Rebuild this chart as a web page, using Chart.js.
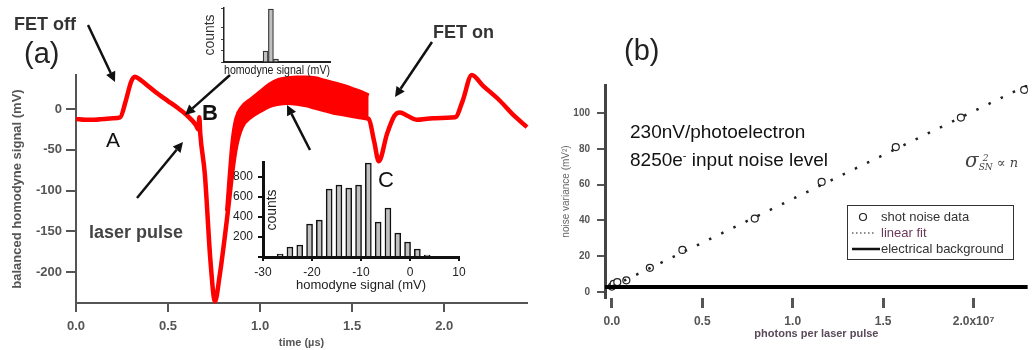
<!DOCTYPE html>
<html>
<head>
<meta charset="utf-8">
<script src="https://cdn.jsdelivr.net/npm/chart.js@4.4.1/dist/chart.umd.min.js"></script>
<style>
body{margin:0;background:#fff;}
#wrap{position:relative;width:1033px;height:350px;overflow:hidden;font-family:"Liberation Sans",Arial,sans-serif;}
canvas{position:absolute;}
.t{position:absolute;white-space:nowrap;color:#222;}
</style>
</head>
<body>
<div id="wrap">
  <canvas id="graficoA" width="560" height="350" style="left:0;top:0"></canvas>
  <canvas id="graficoB" width="473" height="350" style="left:560px;top:0"></canvas>
  <canvas id="histTopo" width="160" height="80" style="left:190px;top:0"></canvas>
  <canvas id="histBaixo" width="250" height="145" style="left:225px;top:150px"></canvas>

  <div class="t" style="left:14px;top:15px;font:bold 18px/18px 'Liberation Sans',Arial;color:#333">FET off</div>
  <div class="t" style="left:24px;top:38px;font:29px/30px 'Liberation Sans',Arial">(a)</div>
  <div class="t" style="left:433px;top:23px;font:bold 18px/18px 'Liberation Sans',Arial;color:#333">FET on</div>
  <div class="t" style="left:106px;top:129px;font:21px/22px 'Liberation Sans',Arial;color:#111">A</div>
  <div class="t" style="left:202px;top:102px;font:bold 22px/22px 'Liberation Sans',Arial;color:#111">B</div>
  <div class="t" style="left:378px;top:169px;font:22px/22px 'Liberation Sans',Arial;color:#111">C</div>
  <div class="t" style="left:89px;top:223px;font:bold 18px/18px 'Liberation Sans',Arial;color:#444">laser pulse</div>

  <div class="t" style="left:624px;top:35px;font:29px/30px 'Liberation Sans',Arial">(b)</div>
  <div class="t" style="left:630px;top:122px;font:19px/20px 'Liberation Sans',Arial;color:#111">230nV/photoelectron</div>
  <div class="t" style="left:630px;top:145px;font:19px/20px 'Liberation Sans',Arial;color:#111">8250e<sup style="font-size:11px">-</sup> input noise level</div>
  <div class="t" style="left:965px;top:148px;color:#444">
    <span style="font:italic 20px 'DejaVu Serif',serif">σ</span><span style="display:inline-block;vertical-align:middle;font:italic 9px/9px 'DejaVu Serif',serif;text-align:center"><span>2</span><br><span>SN</span></span><span style="font:italic 13px 'DejaVu Serif',serif"> ∝ n</span>
  </div>
</div>

<script>
// (a) traço do sinal homodino
let tempoUs = [0, 0.05, 0.10, 0.15, 0.20, 0.24, 0.27, 0.30, 0.32, 0.35, 0.40, 0.45, 0.50, 0.55, 0.60, 0.65, 0.665, 0.67, 0.675, 0.70, 0.73, 0.755, 0.78,
  0.82, 0.85, 0.87, 0.90, 0.95, 1.00, 1.05, 1.10, 1.15, 1.20, 1.25, 1.30, 1.35, 1.40, 1.45, 1.50, 1.55, 1.59,
  1.62, 1.645, 1.69, 1.73, 1.76, 1.80, 1.85, 1.94, 2.06, 2.10, 2.15, 2.21, 2.30, 2.38, 2.45];
let sinalMv = [-12, -13, -13, -12, -11, -10, 10, 34, 40, 36, 27, 18, 10, 2, -7, -19, -25, -10, -30, -80, -185, -236, -205,
  -135, -75, -45, -22, -9, -2, 4, 7, 8, 7, 5, 2, -1, -4, -6, -8, -10, -12,
  -40, -64, -30, -8, -4, -8, -13, -11, -10, 10, 42, 29, 11, -8, -22];
// faixa larga (muitos disparos sobrepostos)
let faixaT = [0.82, 0.85, 0.87, 0.90, 0.95, 1.00, 1.05, 1.10, 1.15, 1.20, 1.25, 1.30, 1.35, 1.40, 1.45, 1.50, 1.55, 1.59];
let faixaMax = [-125, -40, -12, 2, 12, 21, 30, 36, 38, 39, 39, 38, 35, 32, 29, 25, 21, 17];
let faixaMin = [-135, -75, -45, -22, -9, -2, 4, 7, 8, 7, 5, 2, -1, -4, -6, -8, -10, -12];

// histogramas
let histBins = [-26.5, -24.5, -22.5, -20.5, -18.5, -16.5, -14.5, -12.5, -10.5, -8.5, -6.5, -4.5, -2.5, -0.5, 1.5, 3.5];
let histContagens = [30, 100, 120, 330, 370, 680, 720, 690, 720, 940, 350, 490, 240, 150, 80, 20];
let topoBins = [-14.3, -12.3, -10.4];
let topoContagens = [190, 920, 50];

// (b) variância do ruído
let fotons = [0.0, 0.01, 0.03, 0.08, 0.21, 0.39, 0.79, 1.16, 1.57, 1.93, 2.28];
let variancia = [3, 4.5, 5.5, 6.5, 13.5, 23.5, 41, 61.5, 81, 97.5, 113];
let ajusteX = [0, 2.3];
let ajusteY = [3, 115.7];
let fundoX = [-0.04, 2.3];
let fundoY = [2.8, 2.8];

function pares(xs, ys){ return xs.map((x,i)=>({x:x, y:ys[i]})); }

Chart.defaults.font.family = '"Liberation Sans", Arial, sans-serif';
Chart.defaults.animation = false;
Chart.defaults.responsive = false;
Chart.defaults.plugins.legend.display = false;
Chart.defaults.plugins.tooltip.enabled = false;

// setas do painel (a)
let setas = [[88,25,115,82],[432,42,395,97],[230,75,185,115],[137,198,183,142],[310,150,287,105]];
let pluginSetas = {
  id: "setas",
  afterDraw(chart){
    let c = chart.ctx;
    c.save();
    c.strokeStyle = "#111"; c.fillStyle = "#111"; c.lineWidth = 2.5;
    setas.forEach(s => {
      let a = Math.atan2(s[3]-s[1], s[2]-s[0]);
      let bx = s[2] - 10*Math.cos(a), by = s[3] - 10*Math.sin(a);
      c.beginPath(); c.moveTo(s[0], s[1]); c.lineTo(bx, by); c.stroke();
      c.beginPath();
      c.moveTo(s[2], s[3]);
      c.lineTo(bx + 5*Math.sin(a), by - 5*Math.cos(a));
      c.lineTo(bx - 5*Math.sin(a), by + 5*Math.cos(a));
      c.closePath(); c.fill();
    });
    c.restore();
  }
};

let ctxA = document.getElementById("graficoA").getContext("2d");
let graficoA = new Chart(ctxA, {
  type: "line",
  data: {
    datasets: [
      { data: pares(tempoUs, sinalMv), borderColor: "#ff0000", borderWidth: 4.5, pointRadius: 0, cubicInterpolationMode: "monotone", fill: false, clip: 6 },
      { data: pares(faixaT, faixaMin), borderColor: "#ff0000", borderWidth: 3, pointRadius: 0, cubicInterpolationMode: "monotone", fill: false, clip: 6 },
      { data: pares(faixaT, faixaMax), borderColor: "#ff0000", borderWidth: 4, pointRadius: 0, cubicInterpolationMode: "monotone", fill: "-1", backgroundColor: "#ff0000", clip: 6 }
    ]
  },
  options: {
    layout: { padding: { left: 0, top: 75, right: 33, bottom: 0 } },
    scales: {
      x: {
        type: "linear", min: 0, max: 2.45,
        afterFit: s => { s.height = 47; },
        ticks: { stepSize: 0.5, includeBounds: false, padding: 7, color: "#555", font: { size: 13, weight: "bold" }, callback: v => v.toFixed(1) },
        grid: { drawOnChartArea: false, tickLength: 9, lineWidth: 2, color: "#555" },
        border: { color: "#555", width: 2 },
        title: { display: true, text: "time (µs)", color: "#555", font: { size: 11, weight: "bold" }, padding: 0 }
      },
      y: {
        min: -238, max: 42,
        afterFit: s => { s.width = 76; },
        ticks: { stepSize: 50, includeBounds: false, padding: 4, color: "#555", font: { size: 13, weight: "bold" } },
        grid: { drawOnChartArea: false, tickLength: 10, lineWidth: 2, color: "#555" },
        border: { color: "#555", width: 2 },
        title: { display: true, text: "balanced homodyne signal (mV)", color: "#555", font: { size: 13, weight: "bold" }, padding: { top: 10, bottom: 0 } }
      }
    }
  },
  plugins: [pluginSetas]
});

// rótulo "counts" dentro da área do gráfico
function rotuloCounts(x, y){
  return {
    id: "counts",
    afterDraw(chart){
      let c = chart.ctx;
      c.save();
      c.translate(x, y); c.rotate(-Math.PI/2);
      c.font = "14px 'Liberation Sans', Arial"; c.fillStyle = "#222";
      c.textAlign = "center"; c.textBaseline = "middle";
      c.fillText("counts", 0, 0);
      c.restore();
    }
  };
}

let ctxH = document.getElementById("histBaixo").getContext("2d");
let histBaixo = new Chart(ctxH, {
  type: "bar",
  data: { datasets: [{ data: pares(histBins, histContagens), backgroundColor: "#c0c0c0", borderColor: "#111", borderWidth: 1.5, barThickness: 6 }] },
  options: {
    layout: { padding: { left: 0, top: 12, right: 16, bottom: 0 } },
    scales: {
      x: {
        type: "linear", min: -30, max: 10, offset: false,
        afterFit: s => { s.height = 38; },
        ticks: { stepSize: 10, padding: 4, color: "#222", font: { size: 12 } },
        grid: { drawOnChartArea: false, tickLength: 4, lineWidth: 2, color: "#111", offset: false },
        border: { color: "#111", width: 3 },
        title: { display: true, text: "homodyne signal (mV)", color: "#222", font: { size: 13 }, padding: { top: 0, bottom: 2 } }
      },
      y: {
        min: 0, max: 950,
        afterFit: s => { s.width = 38; },
        ticks: { stepSize: 200, includeBounds: false, padding: 5, color: "#222", font: { size: 12 }, callback: v => v === 0 ? "" : v },
        grid: { drawOnChartArea: false, tickLength: 5, lineWidth: 2, color: "#111" },
        border: { color: "#111", width: 3 }
      }
    }
  },
  plugins: [rotuloCounts(47, 60)]
});

let ctxT = document.getElementById("histTopo").getContext("2d");
let histTopo = new Chart(ctxT, {
  type: "bar",
  data: { datasets: [{ data: pares(topoBins, topoContagens), backgroundColor: "#c0c0c0", borderColor: "#333", borderWidth: 1.2, barThickness: 5 }] },
  options: {
    layout: { padding: { left: 0, top: 8, right: 20, bottom: 0 } },
    scales: {
      x: {
        type: "linear", min: -30, max: 10, offset: false,
        afterFit: s => { s.height = 18; },
        ticks: { display: false },
        grid: { display: false },
        border: { color: "#222", width: 2 },
        title: { display: true, text: "homodyne signal (mV)", color: "#222", font: { size: 13 }, padding: { top: 0, bottom: 2 } }
      },
      y: {
        min: 0, max: 940,
        afterFit: s => { s.width = 34; },
        ticks: { display: false, stepSize: 200 },
        grid: { drawOnChartArea: false, tickLength: 3, color: "#444" },
        border: { color: "#222", width: 1.5 },
        title: { display: true, text: "counts", color: "#333", font: { size: 14 }, padding: { top: 12, bottom: 0 } }
      }
    }
  }
});

// legenda desenhada dentro do painel (b)
let pluginLegendaB = {
  id: "legendaB",
  afterDraw(chart){
    let c = chart.ctx;
    let ds = chart.data.datasets;
    c.save();
    c.fillStyle = "#fff"; c.fillRect(287, 205, 166, 54);
    c.strokeStyle = "#333"; c.lineWidth = 1; c.strokeRect(287.5, 205.5, 166, 54);
    c.font = "13px 'Liberation Sans', Arial"; c.textBaseline = "middle";
    // circulo
    c.beginPath(); c.arc(303, 217, 3.5, 0, Math.PI*2); c.lineWidth = 1.2; c.strokeStyle = "#222"; c.stroke();
    c.fillStyle = "#333"; c.fillText(ds[2].label, 321, 217);
    // pontilhado
    c.setLineDash([1.5, 2.5]); c.lineWidth = 1.5; c.strokeStyle = "#666";
    c.beginPath(); c.moveTo(292, 233); c.lineTo(316, 233); c.stroke();
    c.setLineDash([]);
    c.fillStyle = "#6b3a5b"; c.fillText(ds[1].label, 321, 233);
    // linha cheia
    c.lineWidth = 2.5; c.strokeStyle = "#111";
    c.beginPath(); c.moveTo(292, 249); c.lineTo(320, 249); c.stroke();
    c.fillStyle = "#333"; c.fillText(ds[0].label, 321, 249);
    c.restore();
  }
};

let ctxB = document.getElementById("graficoB").getContext("2d");
let graficoB = new Chart(ctxB, {
  type: "scatter",
  data: {
    datasets: [
      { label: "electrical background", data: pares(fundoX, fundoY), showLine: true, borderColor: "#000", borderWidth: 4, pointRadius: 0 },
      { label: "linear fit", data: pares(ajusteX, ajusteY), showLine: true, borderColor: "#222", borderWidth: 2.5, borderDash: [2.5, 11], pointRadius: 0 },
      { label: "shot noise data", data: pares(fotons, variancia), pointRadius: 3.5, pointBorderWidth: 1.2, pointBorderColor: "#222", pointBackgroundColor: "#fff" }
    ]
  },
  options: {
    layout: { padding: { left: 0, top: 85, right: 0, bottom: 0 } },
    scales: {
      x: {
        type: "linear", min: -0.038, max: 2.30,
        afterFit: s => { s.height = 52; },
        ticks: { stepSize: 0.5, includeBounds: false, padding: 6, color: "#555", font: { size: 12, weight: "bold" }, callback: v => v === 2 ? "2.0x10⁷" : v.toFixed(1) },
        grid: { drawOnChartArea: false, tickLength: 10, lineWidth: 3, color: "#555" },
        border: { display: false },
        title: { display: true, text: "photons per laser pulse", color: "#5a4a5a", font: { size: 11, weight: "bold" }, padding: { top: 0, bottom: 9 } }
      },
      y: {
        min: -3.4, max: 115.7,
        afterFit: s => { s.width = 45; },
        ticks: { stepSize: 20, includeBounds: false, padding: 7, color: "#555", font: { size: 10, weight: "bold" } },
        grid: { drawOnChartArea: false, tickLength: 8, lineWidth: 2, color: "#555" },
        border: { color: "#444", width: 3 },
        title: { display: true, text: "noise variance (mV²)", color: "#666", font: { size: 10 }, padding: { top: 0, bottom: 0 } }
      }
    }
  },
  plugins: [pluginLegendaB]
});
</script>
</body>
</html>
